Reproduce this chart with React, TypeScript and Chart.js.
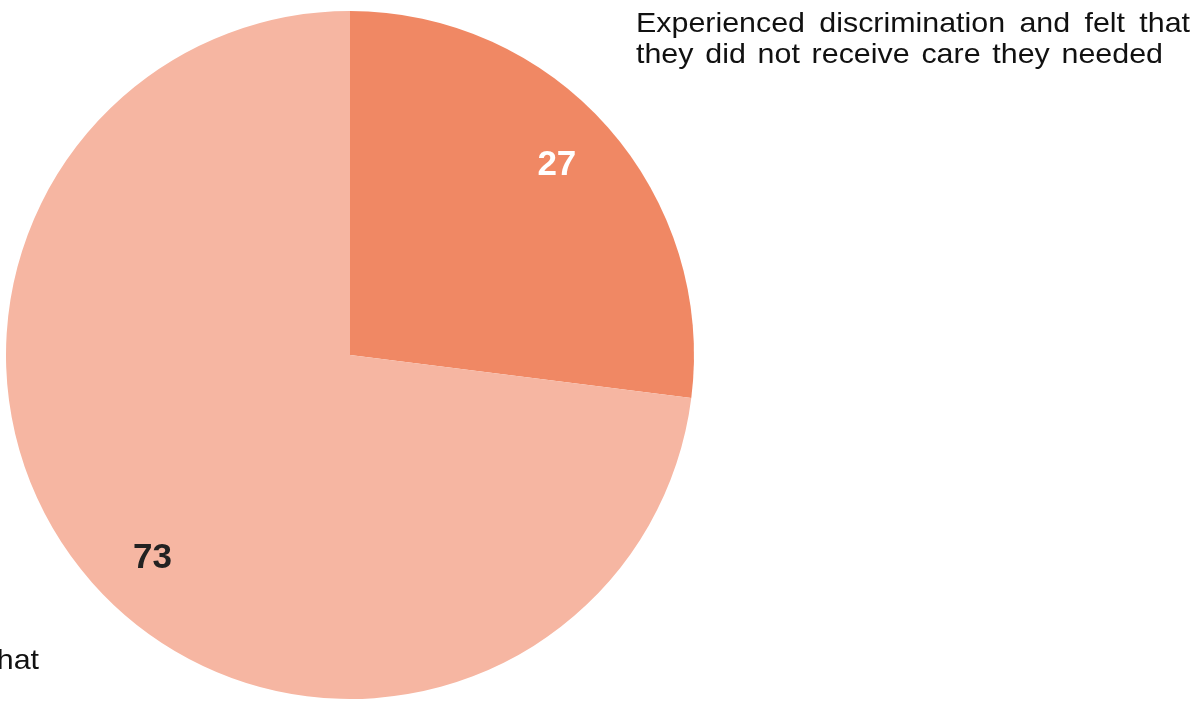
import React, { useEffect, useRef } from "react";
import { Chart, registerables } from "chart.js";

Chart.register(...registerables);

const categories = [
  "Experienced discrimination and felt that they did not receive care they needed",
  "Other",
];
const values = [27, 73];
const colors = ["#F08864", "#F6B6A2"];
const labelColors = ["#FFFFFF", "#222222"];
const topRightLines = [
  "Experienced discrimination and felt that",
  "they did not receive care they needed",
];
const cutLabel = "hat";

const textPlugin = {
  id: "customText",
  afterDraw(chart: any) {
    const ctx = chart.ctx;
    const meta = chart.getDatasetMeta(0);
    ctx.save();
    // value labels
    ctx.font = "bold 35px 'Liberation Sans', Arial, sans-serif";
    ctx.textAlign = "center";
    ctx.textBaseline = "middle";
    const angleShift = [-0.025, -0.073];
    meta.data.forEach((arc: any, i: number) => {
      const p = arc.getProps(["x", "y", "startAngle", "endAngle", "outerRadius"], true);
      const mid = (p.startAngle + p.endAngle) / 2 + angleShift[i];
      const r = p.outerRadius * 0.82;
      ctx.fillStyle = labelColors[i];
      ctx.fillText(String(values[i]), p.x + Math.cos(mid) * r, p.y + Math.sin(mid) * r + 2);
    });
    // top-right category text, justified with stretch
    ctx.font = "28px 'Liberation Sans', Arial, sans-serif";
    ctx.fillStyle = "#111111";
    ctx.textAlign = "left";
    ctx.textBaseline = "alphabetic";
    const sx = 169 / ctx.measureText("Experienced").width;
    const x0 = 636;
    const rightEdges = [1190, 1163];
    ctx.save();
    ctx.translate(x0, 0);
    ctx.scale(sx, 1);
    topRightLines.forEach((line, li) => {
      const words = line.split(" ");
      const wordsW = words.reduce((s: number, w: string) => s + ctx.measureText(w).width, 0);
      const gap = ((rightEdges[li] - x0) / sx - wordsW) / (words.length - 1);
      let x = 0;
      const y = 32 + li * 31;
      words.forEach((w) => {
        ctx.fillText(w, x, y);
        x += ctx.measureText(w).width + gap;
      });
    });
    ctx.restore();
    // cut-off label bottom-left
    ctx.textAlign = "right";
    ctx.fillStyle = "#111111";
    ctx.save();
    ctx.translate(39, 669);
    ctx.scale(sx, 1);
    ctx.fillText(cutLabel, 0, 0);
    ctx.restore();
    ctx.restore();
  },
};

export default function App() {
  const ref = useRef<HTMLCanvasElement>(null);
  useEffect(() => {
    if (!ref.current) return;
    const chart = new Chart(ref.current, {
      type: "pie",
      data: {
        labels: categories,
        datasets: [
          {
            data: values,
            backgroundColor: colors,
            borderWidth: 0,
          },
        ],
      },
      options: {
        animation: false,
        responsive: false,
        maintainAspectRatio: false,
        layout: { padding: { left: 6, top: 11, right: 501, bottom: 13 } },
        plugins: {
          legend: { display: false },
          tooltip: { enabled: false },
        },
      },
      plugins: [textPlugin],
    });
    return () => chart.destroy();
  }, []);
  return (
    <div style={{ position: "fixed", left: 0, top: 0, width: 1195, height: 712, background: "#fff" }}>
      <canvas ref={ref} width={1195} height={712} style={{ width: 1195, height: 712 }} />
    </div>
  );
}
